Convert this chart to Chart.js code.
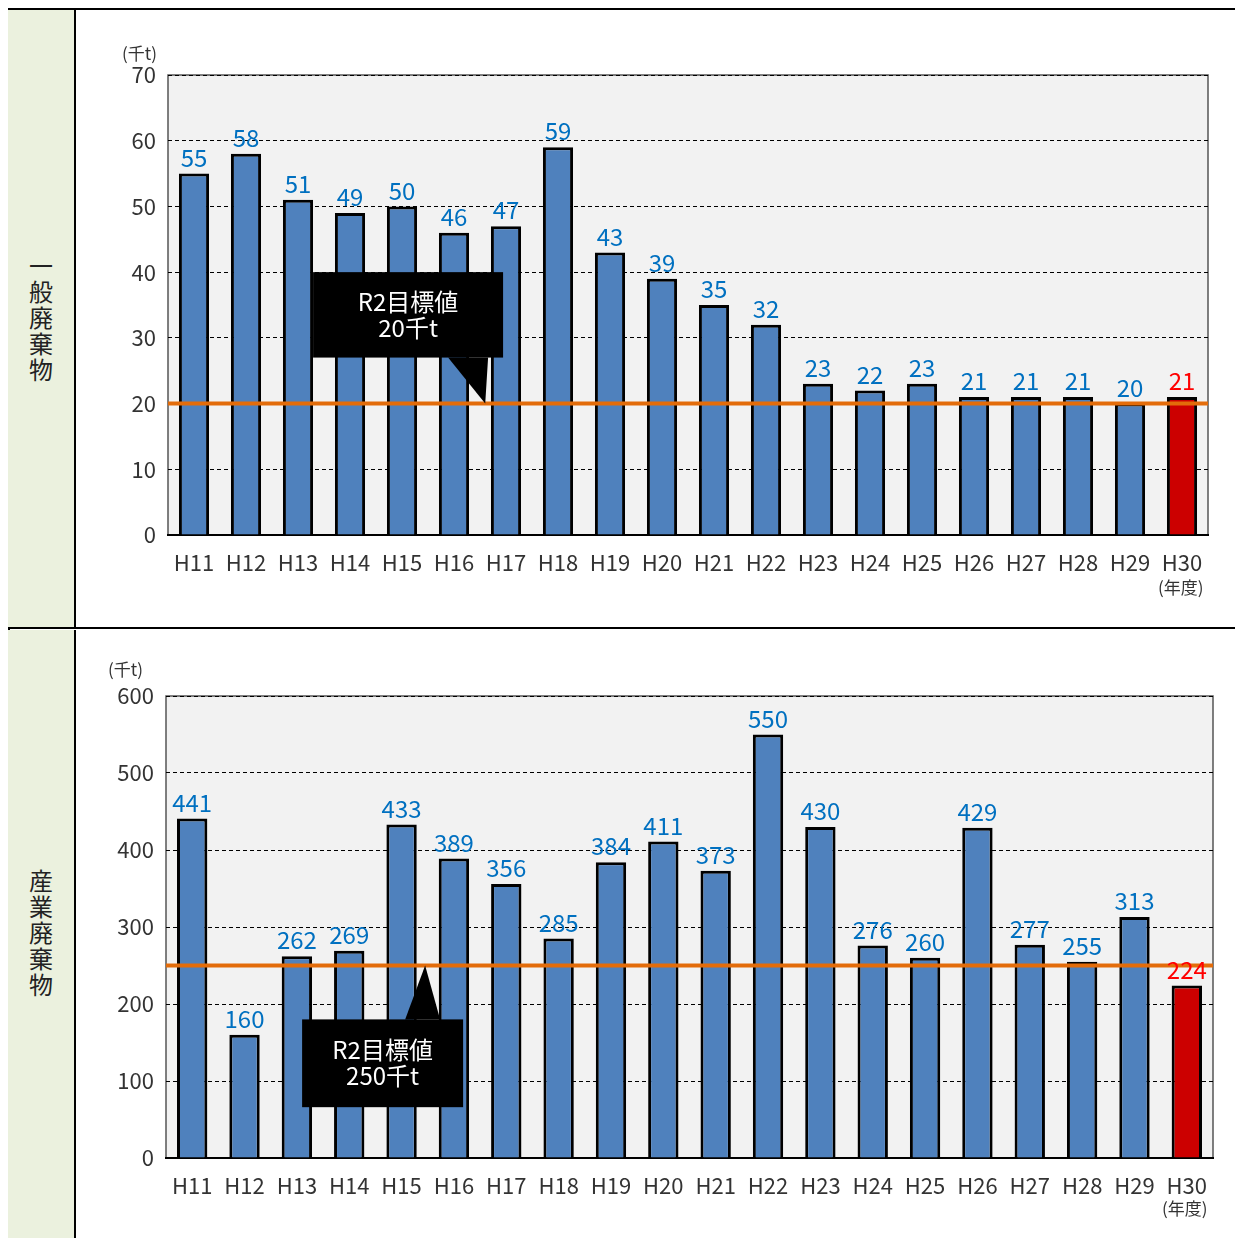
<!DOCTYPE html>
<html><head><meta charset="utf-8">
<script src="https://cdn.jsdelivr.net/npm/chart.js@4"></script>
<style>
body{margin:0;background:#fff;font-family:"Noto Sans CJK JP";}
#frame{position:absolute;left:8px;top:8px;width:1227px;height:1230px;border-left:2px solid #000;border-top:2px solid #000;box-sizing:border-box;}
.side{position:absolute;left:8px;width:68px;background:#ebf1de;border-right:2px solid #000;box-sizing:border-box;writing-mode:vertical-rl;font-size:24px;display:flex;align-items:center;justify-content:center;letter-spacing:2px;color:#222;}
.hline{position:absolute;left:8px;width:1227px;border-top:2px solid #000;}
.wrap{position:absolute;left:80px;width:1150px;}
.unit{position:absolute;font-size:17px;color:#333;}
</style></head><body>
<div id="frame"></div>
<div class="side" style="top:10px;height:618px">一般廃棄物</div>
<div class="side" style="top:630px;height:608px">産業廃棄物</div>
<div class="hline" style="top:627px"></div>
<div class="wrap" style="top:40px;height:535px"><canvas id="c1"></canvas></div>
<div class="wrap" style="top:660px;height:538px"><canvas id="c2"></canvas></div>
<div class="unit" style="left:122px;top:40px">(千t)</div>
<div class="unit" style="left:1158px;top:574px">(年度)</div>
<div class="unit" style="left:108px;top:656px">(千t)</div>
<div class="unit" style="left:1162px;top:1195px">(年度)</div>
<script>
const years = ["H11","H12","H13","H14","H15","H16","H17","H18","H19","H20","H21","H22","H23","H24","H25","H26","H27","H28","H29","H30"];
const general = [55,58,51,49,50,46,47,59,43,39,35,32,23,22,23,21,21,21,20,21];
const industrial = [441,160,262,269,433,389,356,285,384,411,373,550,430,276,260,429,277,255,313,224];
const generalTarget = 20;
const industrialTarget = 250;

const extras = {
  id: "extras",
  afterDatasetsDraw(chart, args, o) {
    const ctx = chart.ctx, x = chart.scales.x, y = chart.scales.y, a = chart.chartArea;
    const ty = y.getPixelForValue(o.target);
    ctx.save();
    ctx.strokeStyle = "#e36c0a"; ctx.lineWidth = 4;
    ctx.beginPath(); ctx.moveTo(a.left, ty); ctx.lineTo(a.right, ty); ctx.stroke();
    ctx.font = "24px 'Noto Sans CJK JP'"; ctx.textAlign = "center"; ctx.textBaseline = "bottom";
    const data = chart.data.datasets[0].data;
    chart.getDatasetMeta(0).data.forEach((b, i) => {
      ctx.fillStyle = i === data.length - 1 ? "#ff0000" : "#0070c0";
      ctx.fillText(data[i], b.x, b.y - 4);
    });
    const c = o.callout;
    const bx = x.getPixelForValue(c.x0), bw = c.w;
    const byTop = y.getPixelForValue(c.yTop), byBot = y.getPixelForValue(c.yBot);
    const tipX = x.getPixelForValue(c.tipX);
    ctx.fillStyle = "#000";
    ctx.fillRect(bx, byTop, bw, byBot - byTop);
    ctx.beginPath();
    if (c.up) {
      ctx.moveTo(tipX - 20, byTop); ctx.lineTo(tipX, ty); ctx.lineTo(tipX + 15, byTop);
    } else {
      ctx.moveTo(bx + bw - 55, byBot); ctx.lineTo(tipX, ty); ctx.lineTo(bx + bw - 15, byBot);
    }
    ctx.fill();
    ctx.fillStyle = "#fff"; ctx.font = "24px 'Noto Sans CJK JP'"; ctx.textBaseline = "middle";
    const mid = (byTop + byBot) / 2;
    ctx.fillText("R2目標値", bx + bw / 2, mid - 13);
    ctx.fillText(c.label, bx + bw / 2, mid + 13);
    ctx.restore();
  }
};

function make(id, data, max, step, target, callout, yw, pad) {
  new Chart(document.getElementById(id), {
    type: "bar",
    data: { labels: years, datasets: [{
      data: data,
      backgroundColor: data.map((v, i) => i === data.length - 1 ? "#cc0000" : "#4f81bd"),
      borderColor: "#000", borderWidth: 3, borderSkipped: "bottom",
      categoryPercentage: 1, barPercentage: 0.58
    }]},
    options: {
      animation: false, responsive: true, maintainAspectRatio: false,
      layout: { padding: pad },
      plugins: { legend: { display: false }, tooltip: { enabled: false },
        extras: { target: target, callout: callout } },
      scales: {
        x: { grid: { display: false }, border: { color: "#000", width: 2 },
          afterFit(s) { s.height = 40; },
          ticks: { color: "#333", font: { size: 22 }, maxRotation: 0, autoSkip: false, padding: 6 } },
        y: { min: 0, max: max, afterFit(s) { s.width = yw; },
          ticks: { stepSize: step, color: "#333", font: { size: 22 }, padding: 12 },
          grid: { color: "#000", lineWidth: 1, drawTicks: false }, border: { dash: [4, 3], display: false } }
      }
    },
    plugins: [{ id: "bg", beforeDraw(ch) { const a = ch.chartArea, c = ch.ctx;
      c.save(); c.fillStyle = "#f2f2f2"; c.fillRect(a.left, a.top, a.width, a.height);
      c.strokeStyle = "#555"; c.lineWidth = 1.5; c.strokeRect(a.left, a.top, a.width, a.height); c.restore(); } },
      extras]
  });
}
Chart.defaults.font.family = "Noto Sans CJK JP";
make("c1", general, 70, 10, generalTarget,
  { x0: 2.29, w: 190, yTop: 40, yBot: 27, tipX: 5.6, label: "20千t", up: false }, 88, { top: 35, right: 22 });
make("c2", industrial, 600, 100, industrialTarget,
  { x0: 2.1, w: 161, yTop: 180, yBot: 66, tipX: 4.45, label: "250千t", up: true }, 86, { top: 36, right: 17 });
</script>
</body></html>
